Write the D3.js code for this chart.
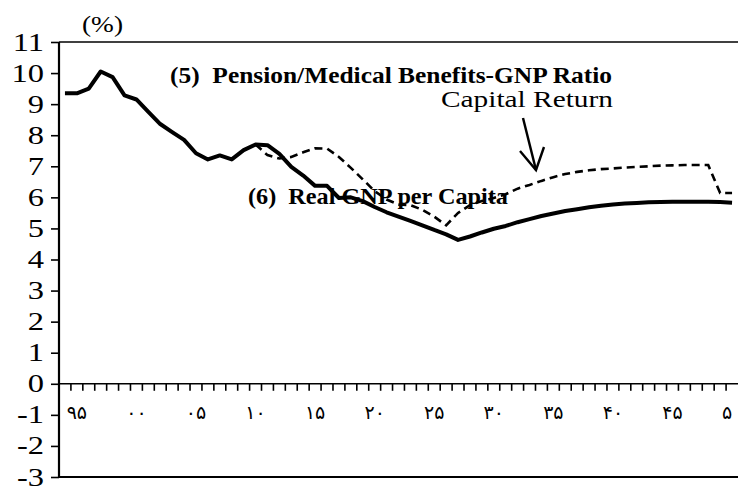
<!DOCTYPE html>
<html>
<head>
<meta charset="utf-8">
<script src="https://cdn.jsdelivr.net/npm/d3@7"></script>
<style>
  html, body { margin: 0; padding: 0; background: #fff; }
  svg { display: block; }
</style>
</head>
<body>
<script>
// ---- data ----
const years = d3.range(1994, 2051);
const baseSeries = [
  9.35, 9.35, 9.5, 10.05, 9.87, 9.28, 9.15, 8.75, 8.36, 8.1,
  7.85, 7.42, 7.22, 7.35, 7.22, 7.52, 7.7, 7.68, 7.4, 6.98,
  6.7, 6.37, 6.37, 5.98, 6.0, 5.88, 5.69, 5.52, 5.38, 5.24,
  5.1, 4.95, 4.81, 4.63, 4.74, 4.87, 4.99, 5.08, 5.2, 5.3,
  5.4, 5.48, 5.56, 5.62, 5.68, 5.73, 5.77, 5.8, 5.82, 5.84,
  5.85, 5.86, 5.86, 5.86, 5.86, 5.85, 5.83
];
const capitalReturnYears = d3.range(2010, 2051);
const capitalReturnSeries = [
  7.7, 7.36, 7.25, 7.3, 7.45, 7.58, 7.57, 7.3, 6.95, 6.58,
  6.2, 5.93, 5.77, 5.75, 5.6, 5.38, 5.1, 5.5, 5.75, 5.88,
  5.98, 6.1, 6.28, 6.4, 6.53, 6.65, 6.75, 6.82, 6.87, 6.91,
  6.93, 6.96, 6.98, 7.0, 7.02, 7.03, 7.04, 7.04, 7.04, 6.14, 6.14
];
const yTicks = d3.range(-3, 12);
const xLabelYears = [1995, 2000, 2005, 2010, 2015, 2020, 2025, 2030, 2035, 2040, 2045, 2050];
const xLabelTexts = ["۹۵", "۰۰", "۰۵", "۱۰", "۱۵", "۲۰", "۲۵", "۳۰", "۳۵", "۴۰", "۴۵", "۵"];

// ---- chart ----
const W = 738, H = 488;
const svg = d3.select("body").append("svg").attr("width", W).attr("height", H);

const x = d3.scaleBand().domain(years).range([59, 738]).paddingInner(0).paddingOuter(0);
const y = d3.scaleLinear().domain([-3, 11]).range([477, 42]);
const cx = d => x(d) + x.bandwidth() / 2;

const serif = "'Liberation Serif', 'Times New Roman', 'DejaVu Serif', serif";

// frame lines: top and bottom
svg.append("line").attr("x1", 59).attr("x2", 738).attr("y1", y(11)).attr("y2", y(11))
  .attr("stroke", "#000").attr("stroke-width", 1.6);
svg.append("line").attr("x1", 59).attr("x2", 738).attr("y1", y(-3)).attr("y2", y(-3))
  .attr("stroke", "#000").attr("stroke-width", 2);

// y axis
const yAxis = d3.axisLeft(y).tickValues(yTicks).tickSize(8).tickFormat("");
const gy = svg.append("g").attr("transform", "translate(59,0)").call(yAxis);
gy.select(".domain").attr("stroke", "#000").attr("stroke-width", 2.2).attr("d", `M0,${y(-3)}V${y(11)}`);
gy.selectAll(".tick line").attr("stroke", "#000").attr("stroke-width", 1.6);

// y tick labels (stretched horizontally like reference)
svg.append("g").selectAll("text").data(yTicks).join("text")
  .attr("transform", d => `translate(44,${y(d) + 8.5}) scale(1.3,1)`)
  .attr("text-anchor", "end")
  .attr("font-family", serif).attr("font-size", 25)
  .text(d => d);

// x axis at zero
const tickYears = years.slice(1);
const gx = svg.append("g").attr("transform", `translate(0,${y(0)})`);
gx.append("line").attr("x1", 59).attr("x2", 738).attr("y1", 0).attr("y2", 0)
  .attr("stroke", "#000").attr("stroke-width", 1.6);
gx.selectAll("line.tk").data(tickYears).join("line").attr("class", "tk")
  .attr("x1", d => x(d)).attr("x2", d => x(d)).attr("y1", 0).attr("y2", 7)
  .attr("stroke", "#000").attr("stroke-width", 1.6);
gx.selectAll("text").data(xLabelYears).join("text")
  .attr("x", (d, i) => cx(d) - (i === xLabelYears.length - 1 ? 5 : 0)).attr("y", 35)
  .attr("text-anchor", "middle")
  .attr("font-family", "'DejaVu Sans', 'Noto Sans', sans-serif").attr("font-size", 19)
  .text((d, i) => xLabelTexts[i]);

// lines
const line = d3.line().x(d => cx(d[0])).y(d => y(d[1]));
svg.append("path")
  .datum(capitalReturnYears.map((yr, i) => [yr, capitalReturnSeries[i]]))
  .attr("d", line).attr("fill", "none").attr("stroke", "#000")
  .attr("stroke-width", 2.6).attr("stroke-dasharray", "8,5");
svg.append("path")
  .datum(years.map((yr, i) => [yr, baseSeries[i]]))
  .attr("d", line).attr("fill", "none").attr("stroke", "#000")
  .attr("stroke-width", 4).attr("stroke-linejoin", "round");

// texts
svg.append("text").attr("x", 82).attr("y", 32)
  .attr("font-family", serif).attr("font-size", 24)
  .attr("textLength", 41).attr("lengthAdjust", "spacingAndGlyphs")
  .text("(%)");
svg.append("text").attr("x", 170).attr("y", 83)
  .attr("font-family", serif).attr("font-size", 23).attr("font-weight", "bold")
  .style("white-space", "pre")
  .attr("textLength", 442).attr("lengthAdjust", "spacingAndGlyphs")
  .text("(5)  Pension/Medical Benefits-GNP Ratio");
svg.append("text").attr("x", 441).attr("y", 107)
  .attr("font-family", serif).attr("font-size", 24)
  .attr("textLength", 172).attr("lengthAdjust", "spacingAndGlyphs")
  .text("Capital Return");
svg.append("text").attr("x", 248).attr("y", 204)
  .attr("font-family", serif).attr("font-size", 23).attr("font-weight", "bold")
  .style("white-space", "pre")
  .attr("textLength", 260).attr("lengthAdjust", "spacingAndGlyphs")
  .text("(6)  Real GNP per Capita");

// arrow
const arrow = svg.append("g").attr("stroke", "#000").attr("stroke-width", 2.4).attr("fill", "none");
arrow.append("line").attr("x1", 523).attr("y1", 118).attr("x2", 536).attr("y2", 170);
arrow.append("path").attr("d", "M520,151 L536,170 L544,147");
</script>
</body>
</html>
